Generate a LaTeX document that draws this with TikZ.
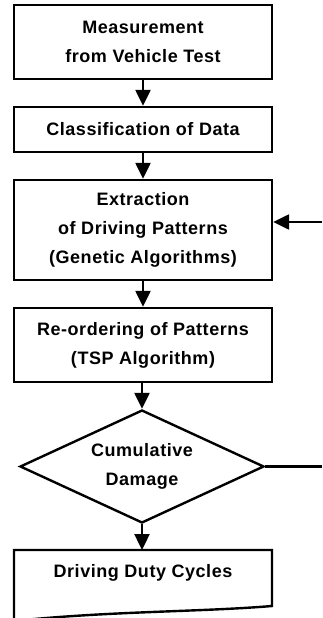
\documentclass[tikz,border=0pt]{standalone}
\usepackage{fontspec}
\newfontfamily\flowfont{Liberation Sans}[LetterSpace=3.0]
\usepackage{tikz}
\usetikzlibrary{arrows.meta,positioning,shapes.geometric}

\begin{document}
\begin{tikzpicture}[
  x=1pt, y=-1pt,
  >={Triangle[width=15pt,length=16pt]},
  box/.style={draw, line width=2.4pt,
              minimum width=258pt, align=center,
              font=\flowfont\bfseries\fontsize{18}{29}\selectfont},
  dec/.style={draw, diamond, aspect=2.16, line width=2.4pt,
              minimum width=244pt, minimum height=113pt, inner sep=0pt,
              align=center, font=\flowfont\bfseries\fontsize{18}{29}\selectfont},
  arr/.style={->, line width=2.4pt},
  fb/.style={line width=2.4pt},
]
\useasboundingbox (0,0) rectangle (322,618);

% ---- process boxes ----
\node[box, minimum height=74pt]  (meas)  at (143, 42)  {Measurement\\from Vehicle Test};
\node[box, minimum height=45pt]  (cls)   at (143,129.5) {Classification of Data};
\node[box, minimum height=100pt] (extr)  at (143,230)  {Extraction\\of Driving Patterns\\(Genetic Algorithms)};
\node[box, minimum height=74pt]  (reord) at (143,345)  {Re-ordering of Patterns\\(TSP Algorithm)};

% ---- decision ----
\node[dec] (dmg) at (142,466.5) {Cumulative\\Damage};

% ---- output document ----
\node[box, draw=none, minimum height=0pt] (cyc) at (143,573) {Driving Duty Cycles};
\coordinate (cycTL) at (14,550);
\coordinate (cycTR) at (272,550);
\draw[line width=2.4pt] (cycTL) -- (14,621)
  .. controls (110,611) and (200,612) .. (272,606) -- (cycTR) -- cycle;

% ---- arrows ----
\draw[arr] (meas)  -- (cls);
\draw[arr] (cls)   -- (extr);
\draw[arr] (extr)  -- (reord);
\draw[arr] (reord.south -| dmg) -- (dmg);
\draw[arr] (dmg)   -- (dmg.south |- cycTL);

% ---- feedback loop ----
\coordinate (fbin)  at (322,222);
\coordinate (fbout) at (322,466.5);
\draw[arr] (fbin) -- (extr.east |- fbin);
\draw[fb]  (dmg.east) -- (fbout);

\end{tikzpicture}
\end{document}
